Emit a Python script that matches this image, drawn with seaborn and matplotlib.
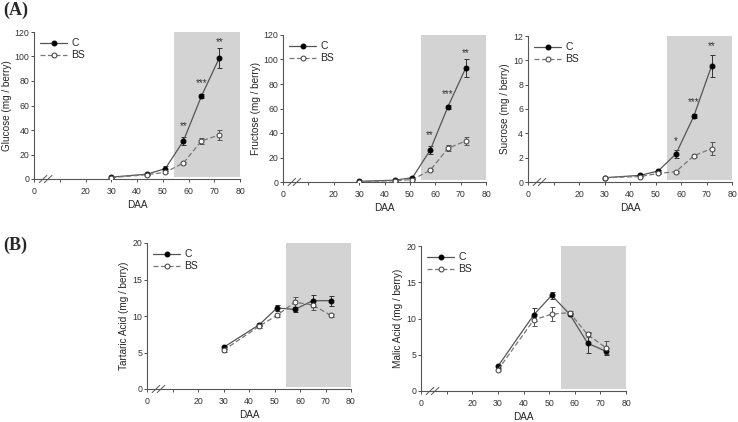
import numpy as np
import pandas as pd
import seaborn as sns
import matplotlib.pyplot as plt

daa = [30, 44, 51, 58, 65, 72]

glucose_c = [1.5, 4.0, 8.5, 31.0, 67.5, 99.0]
glucose_c_err = [0.3, 0.5, 2.0, 3.5, 1.5, 8.0]
glucose_bs = [1.2, 3.5, 5.5, 13.0, 31.0, 36.0]
glucose_bs_err = [0.3, 0.5, 0.8, 1.0, 2.5, 4.0]

fructose_c = [0.5, 1.5, 3.5, 26.0, 61.5, 93.0]
fructose_c_err = [0.2, 0.4, 0.8, 3.0, 1.5, 7.0]
fructose_bs = [0.3, 1.0, 2.0, 9.5, 27.5, 33.5]
fructose_bs_err = [0.2, 0.3, 0.5, 0.8, 2.5, 3.5]

sucrose_c = [0.35, 0.55, 0.9, 2.3, 5.4, 9.55]
sucrose_c_err = [0.03, 0.05, 0.08, 0.3, 0.15, 0.9]
sucrose_bs = [0.35, 0.45, 0.7, 0.85, 2.15, 2.75]
sucrose_bs_err = [0.03, 0.05, 0.05, 0.08, 0.12, 0.5]

tartaric_c = [5.7, 8.8, 11.1, 10.9, 12.1, 12.1]
tartaric_c_err = [0.2, 0.2, 0.35, 0.3, 0.8, 0.7]
tartaric_bs = [5.3, 8.6, 10.1, 11.9, 11.5, 10.1]
tartaric_bs_err = [0.2, 0.2, 0.2, 0.7, 0.7, 0.2]

malic_c = [3.4, 10.5, 13.2, 10.6, 6.6, 5.5]
malic_c_err = [0.2, 0.9, 0.5, 0.2, 1.4, 0.5]
malic_bs = [2.9, 9.8, 10.6, 10.8, 7.8, 6.0]
malic_bs_err = [0.2, 0.8, 1.0, 0.2, 0.3, 0.9]

glucose_stars = {58: ("**", 43), 65: ("***", 78), 72: ("**", 112)}
fructose_stars = {58: ("**", 38), 65: ("***", 72), 72: ("**", 105)}
sucrose_stars = {58: ("*", 3.4), 65: ("***", 6.6), 72: ("**", 11.2)}

sns.set_theme(style="white")
plt.rcParams["font.family"] = ["Liberation Sans", "DejaVu Sans"]

fig = plt.figure(figsize=(7.38, 4.22), dpi=100)

panels = [
    # pixel box (left, top, right, bottom), series, ylabel, ymax, ystep, stars
    ((34, 32, 240, 179), glucose_c, glucose_c_err, glucose_bs, glucose_bs_err,
     "Glucose (mg / berry)", 120, 20, glucose_stars),
    ((283, 35, 486, 182), fructose_c, fructose_c_err, fructose_bs, fructose_bs_err,
     "Fructose (mg / berry)", 120, 20, fructose_stars),
    ((528, 36, 732, 182), sucrose_c, sucrose_c_err, sucrose_bs, sucrose_bs_err,
     "Sucrose (mg / berry)", 12, 2, sucrose_stars),
    ((147, 243, 351, 389), tartaric_c, tartaric_c_err, tartaric_bs, tartaric_bs_err,
     "Tartaric Acid (mg / berry)", 20, 5, None),
    ((421, 246, 626, 391), malic_c, malic_c_err, malic_bs, malic_bs_err,
     "Malic Acid (mg / berry)", 20, 5, None),
]

W, H = 738, 422
for rect, c, c_err, bs, bs_err, ylabel, ymax, ystep, stars in panels:
    l, t, r, b = rect
    ax = fig.add_axes([l / W, (H - b) / H, (r - l) / W, (b - t) / H])
    ax.axvspan(54.5, 80, ymin=0.015, ymax=1, color="#d3d3d3", lw=0, zorder=0)

    df = pd.DataFrame({"DAA": daa * 2, "val": c + bs,
                       "grp": ["C"] * 6 + ["BS"] * 6})
    sns.lineplot(data=df[df.grp == "C"], x="DAA", y="val", ax=ax,
                 color="#555555", lw=0.9, marker="o", markersize=3.5,
                 markerfacecolor="black", markeredgecolor="black", label="C",
                 zorder=3)
    sns.lineplot(data=df[df.grp == "BS"], x="DAA", y="val", ax=ax,
                 color="#777777", lw=0.9, linestyle=(0, (4, 2)), marker="o",
                 markersize=3.5, markerfacecolor="white",
                 markeredgecolor="#444444", label="BS", zorder=4)
    ax.errorbar(daa, c, yerr=c_err, fmt="none", ecolor="#333333",
                elinewidth=0.7, capsize=1.8, capthick=0.7, zorder=2)
    ax.errorbar(daa, bs, yerr=bs_err, fmt="none", ecolor="#555555",
                elinewidth=0.7, capsize=1.8, capthick=0.7, zorder=2)

    if stars:
        for x, (s, y) in stars.items():
            ax.text(x, y, s, ha="center", va="center", fontsize=7,
                    color="#333333")

    ax.set_xlim(0, 80)
    ax.set_ylim(0, ymax)
    ax.set_xticks(np.arange(0, 81, 10))
    ax.set_xticklabels(["0", "", "20", "30", "40", "50", "60", "70", "80"])
    ax.set_yticks(np.arange(0, ymax + ystep / 2, ystep))
    ax.tick_params(labelsize=6.3, length=2, width=0.6, pad=1.5,
                   colors="#333333", bottom=True, left=True)
    ax.tick_params(axis="x", pad=3.5)
    for s in ["top", "right"]:
        ax.spines[s].set_visible(False)
    for s in ["left", "bottom"]:
        ax.spines[s].set_color("#555555")
        ax.spines[s].set_linewidth(0.8)
    ax.set_xlabel("DAA", fontsize=7.2, labelpad=3)
    ax.set_ylabel(ylabel, fontsize=7.2, labelpad=2)

    # axis break marks
    kw = dict(transform=ax.transData, color="#555555", lw=0.7, clip_on=False)
    for dx in (0, 2):
        ax.plot([2 + dx, 5 + dx], [-ymax * 0.025, ymax * 0.025], **kw)

    ax.legend(loc="upper left", frameon=False, fontsize=7.5,
              handlelength=2.6, handletextpad=0.4, labelspacing=0.2,
              borderaxespad=0.2)

fig.text(0.005, 0.997, "(A)", fontsize=13, fontweight="bold",
         family="Liberation Serif", va="top")
fig.text(0.005, 0.44, "(B)", fontsize=13, fontweight="bold",
         family="Liberation Serif", va="top")

fig.savefig("out.png", dpi=100)
